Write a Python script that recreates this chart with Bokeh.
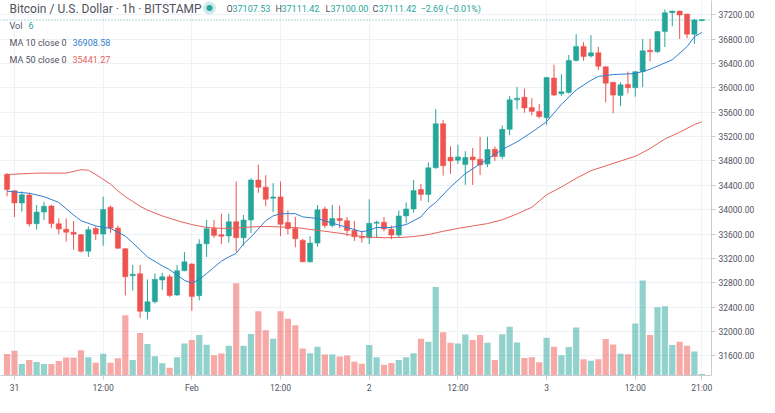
from bokeh.plotting import figure
from bokeh.models import Range1d, FixedTicker, PrintfTickFormatter, Span, Label, ColumnDataSource
from bokeh.embed import file_html
from bokeh.resources import INLINE

# ---------------- data ----------------
hours = list(range(-1, 94))  # hour index, 0 = 31 Jan 00:00

opens = [34580, 34310, 34110, 34240, 33770, 33961, 34060, 33770, 33680, 33630,
         33590, 33320, 33690, 33600, 34040, 33700, 33360, 32916, 32950, 32330,
         32489, 32846, 32900, 32600, 32999, 33110, 32590, 33440, 33690, 33590,
         33570, 33804, 33540, 33830, 34487, 34370, 34187, 34210, 33790, 33690,
         33500, 33146, 33452, 34010, 33741, 33856, 33820, 33660, 33556, 33540,
         33777, 33795, 33680, 33583, 33898, 34013, 34330, 34250, 34690, 35410,
         34860, 34810, 34740, 34866, 34829, 34750, 34990, 34872, 35318, 35802,
         35845, 35676, 35613, 35507, 36160, 35902, 35922, 36449, 36679, 36522,
         36575, 36344, 36091, 35875, 36055, 36001, 36265, 36617, 36591, 36922,
         37232, 37258, 37210, 36880, 37107.53]
highs = [34600, 34320, 34300, 34277, 34077, 34130, 34083, 33856, 33856, 33815,
         33600, 33725, 33725, 34214, 34067, 33740, 33370, 33094, 33094, 32857,
         32952, 32963, 32936, 33094, 33304, 33120, 33515, 33830, 33830, 33935,
         33935, 34462, 33914, 34514, 34739, 34566, 34435, 34462, 33988, 33882,
         33520, 33567, 34077, 34050, 34077, 34067, 33880, 33815, 33657, 34171,
         33820, 33882, 33740, 33988, 34119, 34487, 34424, 34777, 35650, 35470,
         35040, 35066, 34960, 35013, 35197, 35197, 35039, 35381, 35865, 36012,
         35985, 35828, 35733, 36180, 36380, 36222, 36537, 36880, 36749, 36864,
         36670, 36350, 36095, 36091, 36265, 36270, 36801, 36801, 36930, 37285,
         37265, 37265, 37215, 37130, 37111.42]
lows = [34220, 33880, 33970, 33725, 33673, 33830, 33698, 33594, 33477, 33341,
        33299, 33225, 33504, 33409, 33619, 33357, 32594, 32673, 32226, 32200,
        32463, 32684, 32569, 32585, 32990, 32341, 32515, 33225, 33540, 33436,
        33461, 33303, 33409, 33619, 34277, 34056, 33961, 33567, 33594, 33383,
        33140, 33130, 33393, 33697, 33709, 33698, 33567, 33488, 33461, 33436,
        33540, 33646, 33515, 33540, 33777, 33950, 34146, 34119, 34670, 34560,
        34590, 34750, 34408, 34408, 34566, 34698, 34802, 34829, 35223, 35645,
        35591, 35550, 35496, 35392, 35866, 35866, 35906, 36433, 36443, 36496,
        36291, 35760, 35581, 35697, 35906, 35854, 36012, 36433, 36575, 36670,
        37011, 36801, 36812, 36722, 37100.00]
closes = [34330, 34110, 34245, 33767, 33961, 34056, 33772, 33682, 33630, 33599,
          33319, 33673, 33603, 34004, 33698, 33367, 32900, 32941, 32332, 32489,
          32857, 32900, 32594, 32999, 33146, 32578, 33436, 33689, 33578, 33565,
          33804, 33540, 33830, 34487, 34367, 34171, 34209, 33761, 33689, 33524,
          33146, 33452, 33998, 33741, 33856, 33824, 33657, 33556, 33540, 33777,
          33795, 33682, 33583, 33898, 34013, 34313, 34250, 34687, 35410, 34720,
          34800, 34866, 34856, 34818, 34734, 34987, 34872, 35318, 35802, 35829,
          35670, 35613, 35528, 36170, 35881, 35934, 36449, 36679, 36512, 36575,
          36354, 36075, 35881, 36049, 36001, 36265, 36607, 36591, 36922, 37232,
          37258, 37195, 36880, 37114.11, 37111.42]
volumes = [89, 103, 48, 65, 56, 48, 48, 60, 75, 75, 105,
           76, 53, 91, 53, 72, 251, 64, 177, 131, 80,
           51, 32, 76, 133, 148, 168, 128, 84, 92, 124,
           384, 124, 173, 267, 188, 153, 267, 236, 209, 112,
           93, 120, 87, 87, 79, 83, 57, 49, 127, 76,
           45, 52, 64, 76, 93, 153, 140, 368, 180, 136,
           133, 171, 148, 168, 136, 64, 172, 203, 137, 73,
           76, 55, 157, 120, 84, 119, 200, 68, 61, 68,
           152, 129, 91, 88, 216, 395, 168, 284, 288, 127,
           140, 124, 100, 6]

ma10_hours = [-1, 2, 4, 6, 8, 9, 11, 13, 15, 16, 18, 20, 21, 23, 24, 25, 26, 28, 29, 30,
              31, 32, 34, 35, 36, 38, 39, 41, 43, 45, 47, 48, 49, 51, 53, 55, 56, 57, 59, 61,
              63, 66, 68, 70, 72, 74, 76, 78, 79, 81, 84, 86, 89, 91, 92, 93]
ma10_vals = [34304, 34269, 34214, 34119, 33914, 33820, 33733, 33693, 33567, 33457,
             33225, 33078, 33015, 32842, 32794, 32857, 32952, 33157, 33225, 33283,
             33441, 33551, 33820, 33898, 33935, 33935, 33882, 33856, 33780, 33709,
             33638, 33662, 33709, 33709, 33756, 33882, 34025, 34119, 34372, 34592,
             34750, 34987, 35113, 35271, 35444, 35728, 35965, 36122, 36186, 36217,
             36233, 36304, 36459, 36675, 36837, 36908.58]
ma50_hours = [-1, 3, 7, 9, 10, 11, 12, 13, 14, 15, 16, 17, 18, 20, 22, 24, 26, 28, 30, 32,
              34, 36, 38, 40, 42, 44, 46, 48, 50, 52, 54, 56, 58, 60, 62, 64, 66, 68, 70, 72,
              74, 76, 78, 80, 82, 84, 86, 88, 90, 92, 93]
ma50_vals = [34577, 34600, 34600, 34656, 34648, 34577, 34498, 34419, 34308, 34214,
             34135, 34056, 33993, 33898, 33820, 33756, 33709, 33693, 33698, 33717,
             33725, 33717, 33709, 33677, 33646, 33614, 33575, 33551, 33540, 33543,
             33559, 33591, 33646, 33693, 33733, 33772, 33835, 33930, 34040, 34245,
             34372, 34514, 34640, 34719, 34798, 34876, 35003, 35160, 35271, 35397,
             35441.27]

price_ticks = list(range(31600, 37201, 400))
time_ticks = [0, 12, 24, 36, 48, 60, 72, 84, 93]
time_labels = ["31", "12:00", "Feb", "12:00", "2", "12:00", "3", "12:00", "21:00"]

# ---------------- styling / layout ----------------
UP, DOWN = "#26a69a", "#ef5350"
GRAY = "#50535e"
BLUE, RED = "#2f7fcf", "#e4625a"
W, H = 759, 397
FW, FH = 711, 375
X0, X1 = -1.888, 94.31
Y0, Y1 = 31280.0, 37432.0

p = figure(width=W, height=H, x_range=Range1d(X0, X1), y_range=Range1d(Y0, Y1),
           output_backend="svg", toolbar_location=None, y_axis_location="right",
           min_border_left=0, min_border_right=48, min_border_top=0, min_border_bottom=22)
p.outline_line_color = None
p.background_fill_color = "white"
p.border_fill_color = "white"
p.extra_y_ranges = {"vol": Range1d(0, 1560)}

# axes
yax = p.yaxis[0]
yax.ticker = FixedTicker(ticks=price_ticks)
yax.formatter = PrintfTickFormatter(format="%.2f")
xax = p.xaxis[0]
xax.ticker = FixedTicker(ticks=time_ticks)
xax.major_label_overrides = {t: l for t, l in zip(time_ticks, time_labels)}
for ax in (xax, yax):
    ax.axis_line_color = "#c9ccd3"
    ax.major_tick_line_color = "#c9ccd3"
    ax.major_tick_out = 4
    ax.major_tick_in = 0
    ax.minor_tick_line_color = None
    ax.major_label_text_font = "Roboto"
    ax.major_label_text_font_size = "8.5px"
    ax.major_label_text_color = GRAY
    ax.major_label_standoff = 3

p.xgrid.ticker = FixedTicker(ticks=time_ticks)
p.ygrid.ticker = FixedTicker(ticks=price_ticks)
p.grid.grid_line_color = "#eef1f6"
p.grid.grid_line_width = 1

# derived columns
colors = [UP if c >= o else DOWN for o, c in zip(opens, closes)]
tops, bots = [], []
for o, c in zip(opens, closes):
    t, b = max(o, c), min(o, c)
    if t - b < 18:
        m = (t + b) / 2
        t, b = m + 9, m - 9
    tops.append(t)
    bots.append(b)

src = ColumnDataSource(dict(h=hours, hi=highs, lo=lows, top=tops, bot=bots,
                            color=colors, vol=volumes))

# volume
p.vbar(x="h", width=0.84, top="vol", bottom=0, y_range_name="vol", source=src,
       fill_color="color", fill_alpha=0.5, line_color=None)

# candles
p.segment(x0="h", y0="lo", x1="h", y1="hi", line_color="color", line_width=1, source=src)
p.vbar(x="h", width=0.7, top="top", bottom="bot", fill_color="color",
       line_color="color", line_width=0.5, source=src)

# moving averages
p.line(ma10_hours, ma10_vals, line_color=BLUE, line_width=1)
p.line(ma50_hours, ma50_vals, line_color=RED, line_width=1)

# current price line
p.add_layout(Span(location=closes[-1], dimension="width", line_color=UP,
                  line_dash="1 2", line_width=1, line_alpha=0.8))


def label(text, px, py, color, size, style="normal"):
    p.add_layout(Label(x=X0, y=Y1, x_offset=px, y_offset=-py, text=text,
                       text_color=color, text_font="Roboto", text_font_size=size,
                       text_baseline="middle", text_align="left", text_font_style=style))


label("Bitcoin / U.S. Dollar · 1h · BITSTAMP", 9, 8, GRAY, "12px")
# live dot
dx = X0 + 209 / FW * (X1 - X0)
dy = Y1 - 7.5 / FH * (Y1 - Y0)
p.scatter([dx], [dy], size=13, fill_color=UP, fill_alpha=0.22, line_color=None)
p.scatter([dx], [dy], size=6, fill_color=UP, line_color=None)

change = closes[-1] - closes[-2]
pct = change / closes[-2] * 100
sign = "\u2212" if change < 0 else "+"
label("O", 226, 8, GRAY, "9px")
label(f"{opens[-1]:.2f}", 232, 8, UP, "9px")
label("H", 275, 8, GRAY, "9px")
label(f"{highs[-1]:.2f}", 281, 8, UP, "9px")
label("L", 325, 8, GRAY, "9px")
label(f"{lows[-1]:.2f}", 330, 8, UP, "9px")
label("C", 372, 8, GRAY, "9px")
label(f"{closes[-1]:.2f}", 378, 8, UP, "9px")
label(f"{sign}{abs(change):.2f} ({sign}{abs(pct):.2f}%)", 420, 8, UP, "9px")

label("Vol", 9, 25, GRAY, "9px")
label(f"{volumes[-1]}", 28, 25, UP, "9px")
label("MA 10 close 0", 9, 42, GRAY, "9px")
label(f"{ma10_vals[-1]:.2f}", 72, 42, BLUE, "9px")
label("MA 50 close 0", 9, 59, GRAY, "9px")
label(f"{ma50_vals[-1]:.2f}", 72, 59, RED, "9px")

# settings gear under the price axis
p.add_layout(Label(x=X1, y=Y0, x_offset=23, y_offset=-12, text="\u2699",
                   text_color=GRAY, text_font="DejaVu Sans", text_font_size="13px",
                   text_align="center", text_baseline="middle"))

open("out.html", "w").write(file_html(p, INLINE))
